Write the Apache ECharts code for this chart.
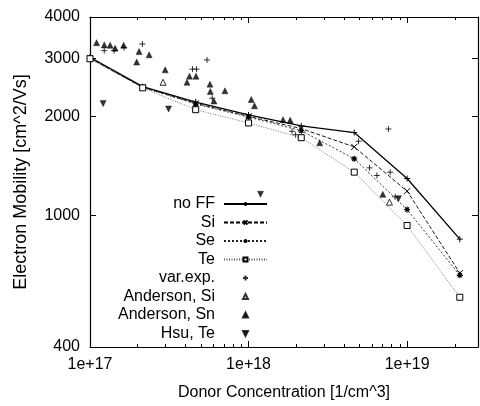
<!DOCTYPE html>
<html><head><meta charset="utf-8">
<script src="https://cdn.jsdelivr.net/npm/echarts@6/dist/echarts.min.js"></script>
<style>html,body{margin:0;padding:0;background:#fff}#c{width:480px;height:406px}</style>
</head><body><div id="c"></div>
<script>
// Model curves (x knots shared)
const xKnots = [1e17, 2.15e17, 4.64e17, 1e18, 2.15e18, 4.64e18, 1e19, 2.15e19];
const noFF = [3020, 2460, 2210, 2020, 1870, 1786, 1296, 849];
const siFF = [3000, 2450, 2190, 2000, 1836, 1616, 1187, 670];
const seFF = [3000, 2450, 2180, 1990, 1809, 1487, 1044, 660];
const teFF = [2990, 2440, 2095, 1910, 1723, 1355, 934, 566];
// Experimental points
const varExpX = [1.23e17, 1.42e17, 1.64e17, 2.14e17, 4.43e17, 4.7e17, 5.47e17, 5.9e17, 1.88e18, 1.98e18, 4.94e18, 5.79e18, 6.45e18, 7.82e18, 8.4e18, 7.63e18];
const varExpY = [3164, 3164, 3230, 3314, 2780, 2780, 2965, 2270, 1802, 1759, 1681, 1396, 1324, 1354, 1141, 1831];
const andSiX = [2.89e17, 7.74e18];
const andSiY = [2536, 1099];
const andSnX = [1.10e17, 1.23e17, 1.34e17, 1.44e17, 1.63e17, 2.04e17, 2.36e17, 1.97e17, 2.98e17, 4.24e17, 4.66e17, 4.09e17, 5.71e17, 5.74e17, 7.1e17, 6.05e17, 1.04e18, 1.09e18, 1.65e18, 1.83e18, 2.81e18, 7.03e18];
const andSnY = [3344, 3292, 3285, 3218, 3285, 3142, 3072, 2920, 2766, 2647, 2647, 2536, 2504, 2380, 2390, 2225, 2250, 2153, 1954, 1945, 1662, 1161];
const hsuTeX = [1.21e17, 3.13e17, 1.19e18, 8.82e18];
const hsuTeY = [2186, 2105, 1161, 1126];
// Axes
const xMajorTicks = [1e17, 1e18, 1e19];
const xMinorTicks = [2e17,3e17,4e17,5e17,6e17,7e17,8e17,9e17,2e18,3e18,4e18,5e18,6e18,7e18,8e18,9e18,2e19];
const yTicks = [400, 1000, 2000, 3000, 4000];
const xMin = 1e17, xMax = 2.8e19, yMin = 400, yMax = 4000;

const FONT = 'Liberation Sans';
const zip = (xs, ys) => xs.map((x, i) => [x, ys[i]]);
const P_PLUS = 'path://M0,5L10,5M5,0L5,10';
const P_CROSS = 'path://M0,0L10,10M10,0L0,10';
const P_STAR = 'path://M0,5L10,5M5,0L5,10M1.5,1.5L8.5,8.5M8.5,1.5L1.5,8.5';
const P_SQ = 'path://M0,0L10,0L10,10L0,10Z';
const P_TRI = 'path://M5,0L10,10L0,10Z';
const P_TRID = 'path://M0,0L10,0L5,10Z';

function xAx(pos, opts) {
  return Object.assign({
    type: 'log', min: xMin, max: xMax, position: pos,
    axisLine: {show: true, onZero: false, lineStyle: {color: '#000', width: 1.2}},
    axisTick: {show: true, inside: true, length: 6, customValues: xMajorTicks, lineStyle: {color: '#000'}},
    axisLabel: {show: false},
    splitLine: {show: false}
  }, opts || {});
}
function yAx(pos, opts) {
  return Object.assign({
    type: 'log', min: yMin, max: yMax, position: pos,
    axisLine: {show: true, onZero: false, lineStyle: {color: '#000', width: 1.2}},
    axisTick: {show: true, inside: true, length: 6, customValues: yTicks, lineStyle: {color: '#000'}},
    axisLabel: {show: false},
    splitLine: {show: false}
  }, opts || {});
}

const option = {
  animation: false,
  backgroundColor: '#fff',
  textStyle: {fontFamily: FONT, color: '#000'},
  grid: {left: 90, right: 2, top: 17, bottom: 58, containLabel: false},
  xAxis: [
    xAx('bottom', {
      name: 'Donor Concentration [1/cm^3]', nameLocation: 'middle', nameGap: 38,
      nameTextStyle: {fontSize: 16, fontFamily: FONT, color: '#000'},
      axisLabel: {show: true, customValues: xMajorTicks, fontSize: 16, fontFamily: FONT, color: '#000', margin: 10,
        formatter: v => '1e+' + Math.round(Math.log10(v))}
    }),
    xAx('top'),
    xAx('bottom', {axisLine: {show: false}, axisTick: {show: true, inside: true, length: 3, customValues: xMinorTicks, lineStyle: {color: '#000'}}}),
    xAx('top', {axisLine: {show: false}, axisTick: {show: true, inside: true, length: 3, customValues: xMinorTicks, lineStyle: {color: '#000'}}})
  ],
  yAxis: [
    yAx('left', {
      name: 'Electron Mobility [cm^2/Vs]', nameLocation: 'middle', nameGap: 60,
      nameTextStyle: {fontSize: 18, fontFamily: FONT, color: '#000'},
      axisLabel: {show: true, customValues: yTicks, fontSize: 16, fontFamily: FONT, color: '#000', margin: 10,
        formatter: v => String(Math.round(v))}
    }),
    yAx('right')
  ],
  legend: {
    orient: 'vertical', align: 'right', right: 207, top: 191,
    itemWidth: 43, itemHeight: 5, itemGap: 2.5,
    textStyle: {fontSize: 16, fontFamily: FONT, color: '#000', padding: [0, 4, 0, 0]},
    data: ['no FF', 'Si', 'Se', 'Te', 'var.exp.', 'Anderson, Si', 'Anderson, Sn', 'Hsu, Te']
  },
  series: [
    {name: 'no FF', type: 'line', data: zip(xKnots, noFF), symbol: P_PLUS, symbolSize: 6,
      itemStyle: {color: 'transparent', borderColor: '#000', borderWidth: 1},
      lineStyle: {color: '#000', width: 1.3, type: 'solid'}},
    {name: 'Si', type: 'line', data: zip(xKnots, siFF), symbol: P_CROSS, symbolSize: 6,
      itemStyle: {color: 'transparent', borderColor: '#000', borderWidth: 1},
      lineStyle: {color: '#000', width: 0.9, type: [4, 2]}},
    {name: 'Se', type: 'line', data: zip(xKnots, seFF), symbol: P_STAR, symbolSize: 6,
      itemStyle: {color: 'transparent', borderColor: '#000', borderWidth: 1.2},
      lineStyle: {color: '#222', width: 0.9, type: [2, 2]}},
    {name: 'Te', type: 'line', data: zip(xKnots, teFF), symbol: P_SQ, symbolSize: 6,
      itemStyle: {color: '#fff', borderColor: '#000', borderWidth: 1},
      lineStyle: {color: '#555', width: 0.8, type: [1, 1.5]}},
    {name: 'var.exp.', type: 'scatter', data: zip(varExpX, varExpY), symbol: P_PLUS, symbolSize: 6,
      itemStyle: {color: 'transparent', borderColor: '#000', borderWidth: 1}},
    {name: 'Anderson, Si', type: 'scatter', data: zip(andSiX, andSiY), symbol: P_TRI, symbolSize: 6,
      itemStyle: {color: '#fff', borderColor: '#000', borderWidth: 1}},
    {name: 'Anderson, Sn', type: 'scatter', data: zip(andSnX, andSnY), symbol: P_TRI, symbolSize: 6,
      itemStyle: {color: '#000', borderColor: '#000', borderWidth: 0.5}},
    {name: 'Hsu, Te', type: 'scatter', data: zip(hsuTeX, hsuTeY), symbol: P_TRID, symbolSize: 6,
      itemStyle: {color: '#000', borderColor: '#000', borderWidth: 0.5}}
  ]
};
const chart = echarts.init(document.getElementById('c'), null, {renderer: 'canvas'});
chart.setOption(option);
</script>
</body></html>
